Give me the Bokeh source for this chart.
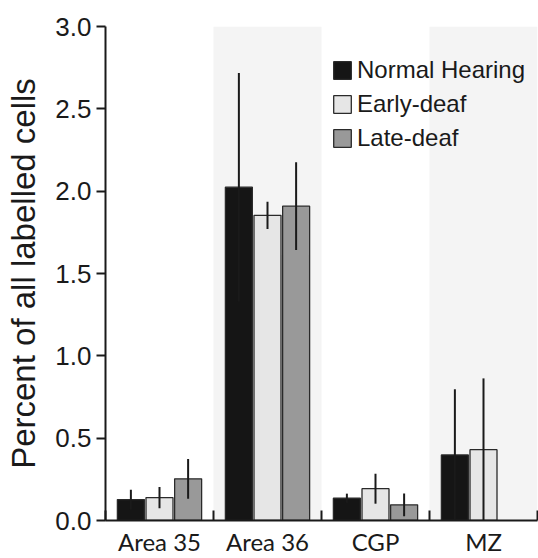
import numpy as np
from bokeh.plotting import figure
from bokeh.models import (ColumnDataSource, Range1d, FixedTicker, Legend, LegendItem,
                          NumeralTickFormatter)
from bokeh.embed import file_html
from bokeh.resources import INLINE

# ---- data ----
categories = ["Area 35", "Area 36", "CGP", "MZ"]
series_names = ["Normal Hearing", "Early-deaf", "Late-deaf"]
normal_vals = [0.127, 2.024, 0.135, 0.398]
normal_err = [0.060, 0.694, 0.028, 0.399]
early_vals = [0.139, 1.853, 0.193, 0.430]
early_err = [0.064, 0.083, 0.091, 0.433]
late_vals = [0.253, 1.909, 0.095, float("nan")]
late_err = [0.121, 0.267, 0.069, float("nan")]
shaded_cats = ["Area 36", "MZ"]
y_ticks = [0.0, 0.5, 1.0, 1.5, 2.0, 2.5, 3.0]

# ---- styles ----
fills = ["#151515", "#e6e6e6", "#999999"]
offsets = [-0.265, 0.0, 0.265]
bar_w = 0.25
ink = "#1a1a1a"

centers = np.arange(len(categories)) + 0.5
boundaries = list(np.arange(len(categories) + 1).astype(float))

p = figure(width=538, height=558, output_backend="svg", toolbar_location=None,
           x_range=Range1d(0, len(categories)), y_range=Range1d(0, max(y_ticks)),
           min_border_left=105, min_border_right=1, min_border_top=26, min_border_bottom=35)
p.outline_line_color = None
p.xgrid.visible = False
p.ygrid.visible = False
p.background_fill_color = "white"

# shaded category bands
band_x = [centers[categories.index(c)] for c in shaded_cats]
p.vbar(x=band_x, top=max(y_ticks), bottom=0, width=1.0, fill_color="#f4f4f4",
       line_color=None)

series = [(normal_vals, normal_err), (early_vals, early_err), (late_vals, late_err)]
items = []
for i, (vals, errs) in enumerate(series):
    xs = centers + offsets[i]
    v = np.array(vals, dtype=float)
    e = np.array(errs, dtype=float)
    src = ColumnDataSource(dict(x=xs, top=v, lo=v - e, hi=v + e))
    r = p.vbar(x="x", top="top", bottom=0, width=bar_w, source=src,
               fill_color=fills[i], line_color="#2a2a2a", line_width=1.3)
    p.segment(x0="x", x1="x", y0="lo", y1="hi", source=src,
              line_color=ink, line_width=2)
    items.append(LegendItem(label=series_names[i], renderers=[r]))

legend = Legend(items=items, location=(226, 368), padding=0, margin=0,
                spacing=6, glyph_width=22, glyph_height=22, label_standoff=4,
                label_text_font="Liberation Sans", label_text_font_size="24px",
                label_text_color=ink, background_fill_alpha=0,
                border_line_color=None)
p.add_layout(legend)

# x axis
xa = p.xaxis[0]
xa.ticker = FixedTicker(ticks=list(centers), minor_ticks=boundaries)
xa.major_label_overrides = {float(c): n for c, n in zip(centers, categories)}
xa.major_tick_in = 0
xa.major_tick_out = 0
xa.minor_tick_in = 10
xa.minor_tick_out = 0
xa.minor_tick_line_width = 2
xa.minor_tick_line_color = ink
xa.axis_line_width = 2
xa.axis_line_color = ink
xa.major_label_text_font = "Lato"
xa.major_label_text_font_size = "24px"
xa.major_label_text_color = ink
xa.major_label_standoff = 6

# y axis
ya = p.yaxis[0]
ya.ticker = FixedTicker(ticks=y_ticks)
ya.formatter = NumeralTickFormatter(format="0.0")
ya.major_tick_in = 0
ya.major_tick_out = 9
ya.major_tick_line_width = 2
ya.major_tick_line_color = ink
ya.minor_tick_line_color = None
ya.axis_line_width = 2
ya.axis_line_color = ink
ya.major_label_text_font = "Liberation Sans"
ya.major_label_text_font_size = "26px"
ya.major_label_text_color = ink
ya.major_label_standoff = 5
ya.axis_label = "Percent of all labelled cells"
ya.axis_label_text_font = "Liberation Sans"
ya.axis_label_text_font_size = "33px"
ya.axis_label_text_font_style = "normal"
ya.axis_label_text_color = ink
ya.axis_label_standoff = 10

open("out.html", "w").write(file_html(p, INLINE))
